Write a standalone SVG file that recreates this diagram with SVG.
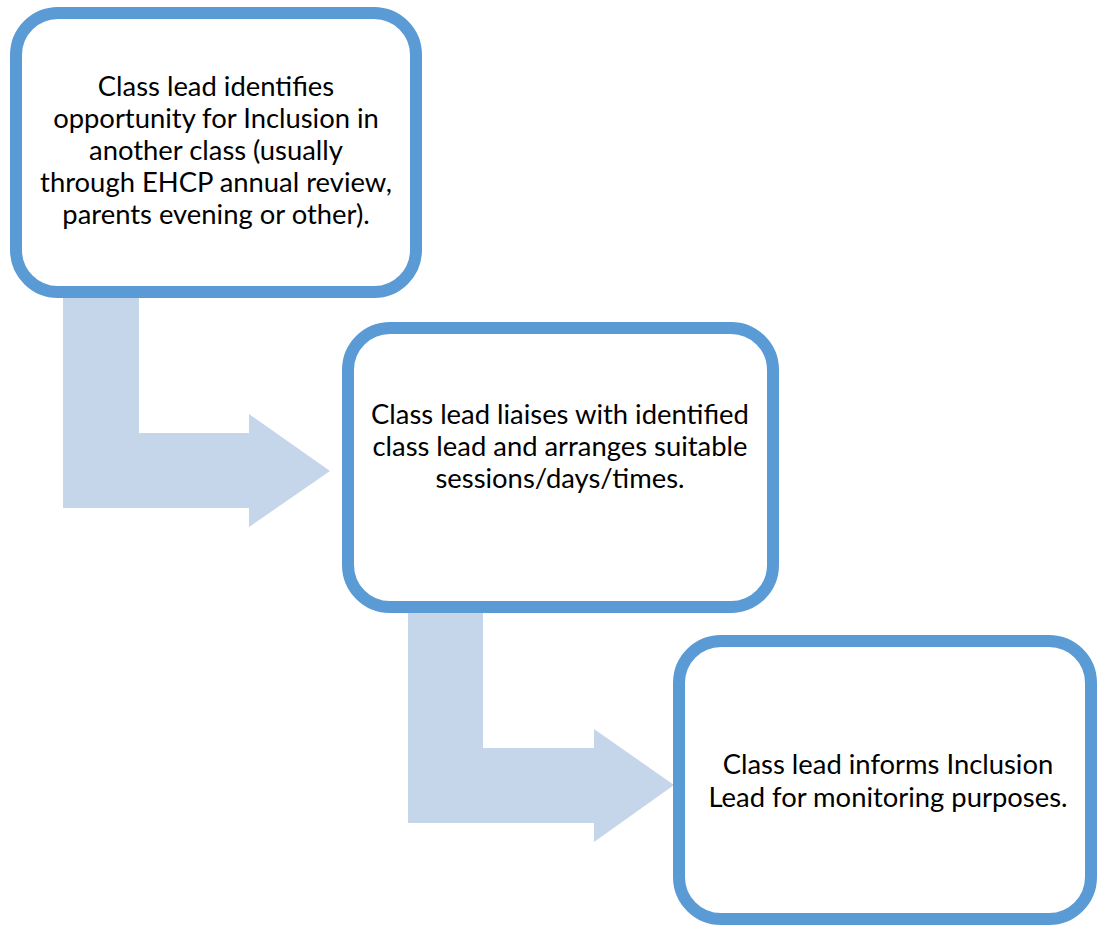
<svg xmlns="http://www.w3.org/2000/svg" width="1097" height="926" viewBox="0 0 1097 926">
  <style>
    .box { fill: #ffffff; stroke: #5B9BD5; stroke-width: 12; }
    .arrow { fill: #C5D5EA; stroke: none; }
    .label { font-family: Lato, "Liberation Sans", sans-serif; font-size: 27.4px; fill: #000000; text-anchor: middle; }
  </style>
  <rect width="1097" height="926" fill="#ffffff"/>

  <!-- bent arrows linking the steps -->
  <g id="connectors">
    <polygon class="arrow" points="63,290 139,290 139,433 249,433 249,414 330,471 249,527 249,508 63,508"/>
    <polygon class="arrow" points="408,605 483,605 483,748 594,748 594,729 674,785 594,842 594,823 408,823"/>
  </g>

  <g id="step1">
    <rect class="box" x="16" y="13" width="400" height="279" rx="42" ry="42"/>
    <text class="label" x="216" y="96">Class lead identifies</text>
    <text class="label" x="216" y="128">opportunity for Inclusion in</text>
    <text class="label" x="216" y="160">another class (usually</text>
    <text class="label" x="216" y="192">through EHCP annual review,</text>
    <text class="label" x="216" y="224">parents evening or other).</text>
  </g>

  <g id="step2">
    <rect class="box" x="348" y="328" width="425" height="279" rx="42" ry="42"/>
    <text class="label" x="560" y="424">Class lead liaises with identified</text>
    <text class="label" x="560" y="456">class lead and arranges suitable</text>
    <text class="label" x="560" y="488">sessions/days/times.</text>
  </g>

  <g id="step3">
    <rect class="box" x="679" y="641" width="412" height="278" rx="42" ry="42"/>
    <text class="label" x="888" y="774">Class lead informs Inclusion</text>
    <text class="label" x="888" y="807">Lead for monitoring purposes.</text>
  </g>
</svg>
